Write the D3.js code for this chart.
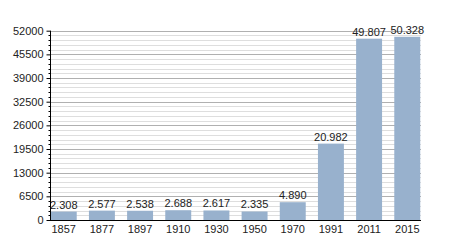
<!DOCTYPE html>
<html><head><meta charset="utf-8">
<script src="https://cdn.jsdelivr.net/npm/d3@7"></script>
<style>body{margin:0;background:#fff}svg{display:block}text{font-family:"Liberation Sans",Arial,sans-serif}</style>
</head><body>
<svg id="c" width="450" height="250"></svg>
<script>
const years = ["1857","1877","1897","1910","1930","1950","1970","1991","2011","2015"];
const population = [2308,2577,2538,2688,2617,2335,4890,20982,49807,50328];
const valueLabels = ["2.308","2.577","2.538","2.688","2.617","2.335","4.890","20.982","49.807","50.328"];
const yTicks = [0,6500,13000,19500,26000,32500,39000,45500,52000];

(function(){
const svg = d3.select("#c");
const pL = 50, pR = 421, pT = 30.7, pB = 220;
const x = d3.scaleBand().domain(years).range([pL, pR]).paddingInner(0.32).paddingOuter(0.02);
const y = d3.scaleLinear().domain([0, 52000]).range([pB, pT]);

const minor = d3.range(0, 52001, 1300).filter(v => v % 6500 !== 0);
svg.append("g").selectAll("line").data(minor).join("line")
  .attr("x1", pL).attr("x2", pR).attr("y1", d => Math.round(y(d))+0.5).attr("y2", d => Math.round(y(d))+0.5)
  .attr("stroke", "#dedede").attr("stroke-width", 1);
svg.append("g").selectAll("line").data(yTicks.filter(d=>d>0)).join("line")
  .attr("x1", pL).attr("x2", pR).attr("y1", d => Math.round(y(d))+0.5).attr("y2", d => Math.round(y(d))+0.5)
  .attr("stroke", "#b0b0b0").attr("stroke-width", 1);

svg.append("g").selectAll("rect").data(population).join("rect")
  .attr("x", (d,i) => x(years[i])).attr("width", x.bandwidth())
  .attr("y", d => y(d)).attr("height", d => pB - y(d))
  .attr("fill", "#98b1cd");

svg.append("g").selectAll("text").data(population).join("text")
  .attr("x", (d,i) => x(years[i]) + x.bandwidth()/2).attr("y", d => y(d) - 3)
  .attr("text-anchor", "middle").attr("font-size", 11).attr("fill", "#222")
  .text((d,i) => valueLabels[i]);

const ya = svg.append("g").attr("transform", `translate(${pL+0.5},0)`)
  .call(d3.axisLeft(y).tickValues(yTicks).tickSize(4).tickPadding(3).tickFormat(d3.format("d")));
ya.select(".domain").remove();
ya.selectAll("text").attr("font-size", 11).attr("fill", "#222").attr("font-family", '"Liberation Sans",Arial,sans-serif');
ya.selectAll(".tick line").attr("stroke", "#000");
ya.append("line").attr("x1",0).attr("x2",0).attr("y1",pT).attr("y2",pB).attr("stroke","#000");
ya.selectAll(".mt").data(minor).join("line").attr("class","mt")
  .attr("x1",-2).attr("x2",0).attr("y1",d=>Math.round(y(d))+0.5).attr("y2",d=>Math.round(y(d))+0.5).attr("stroke","#000");

const xa = svg.append("g").attr("transform", `translate(0,${pB+0.5})`)
  .call(d3.axisBottom(x).tickSize(0).tickPadding(5));
xa.select(".domain").attr("d", `M${pL},0H${pR}`).attr("stroke","#000");
xa.selectAll("text").attr("font-size", 11).attr("fill", "#222").attr("font-family", '"Liberation Sans",Arial,sans-serif');
})();
</script>
</body></html>
